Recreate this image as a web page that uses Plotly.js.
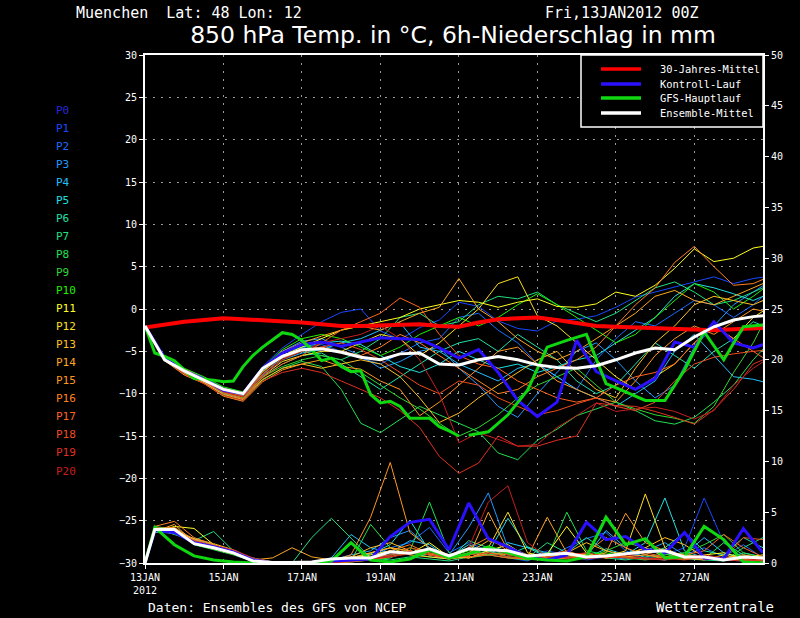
<!DOCTYPE html>
<html><head><meta charset="utf-8">
<script src="https://cdn.plot.ly/plotly-3.0.1.min.js"></script>
<style>html,body{margin:0;padding:0;background:#000;}#chart{width:800px;height:618px;}</style>
</head><body><div id="chart"></div>
<script>
// ---------- data ----------
const tempHours = [0,12,24,36,48,60,72,84,96,108,120,132,144,156,168,180,192,204,216,228,240,252,264,276,288,300,312,324,336,348,360,372,384];
const precipHours = [0,6,18,30,42,54,66,78,90,102,114,126,138,150,162,174,186,198,210,222,234,246,258,270,282,294,306,318,330,342,354,366,378];
const mainHoursA = [0,6,12,18,24,30,36,42,48,54,60,66,72,78,84,90,96,102,108,114,120,126,132,138,144,150,156,162,168,174,180,186,192];
const mainHoursB = [198,210,222,234,246,258,270,282,294,306,318,330,342,354,366,378];
const tickHours = [0,48,96,144,192,240,288,336];
const tickLabels = ["13JAN<br>2012","15JAN","17JAN","19JAN","21JAN","23JAN","25JAN","27JAN"];

const climTemp = [-2.2,-1.8,-1.5,-1.3,-1.1,-1.2,-1.3,-1.5,-1.6,-1.8,-2.0,-2.0,-1.9,-1.8,-1.8,-2.0,-2.1,-1.6,-1.2,-1.1,-1.0,-1.3,-1.7,-2.0,-2.1,-2.2,-2.3,-2.4,-2.5,-2.5,-2.4,-2.3,-2.2];
const meanTemp = [-2.0,-6.0,-7.3,-8.4,-9.5,-10.0,-7.0,-5.6,-4.8,-4.7,-5.1,-5.7,-6.0,-5.3,-5.2,-6.5,-6.6,-6.0,-5.6,-6.0,-6.6,-6.9,-7.0,-6.7,-6.0,-5.2,-4.6,-4.8,-3.3,-2.1,-1.3,-0.9,-0.7];
const controlTemp = [-2.0,-5.8,-7.3,-8.3,-9.6,-10.0,-7.0,-5.2,-4.2,-3.9,-4.4,-3.9,-3.4,-3.5,-3.6,-4.6,-5.8,-4.8,-7.5,-10.8,-12.7,-11.0,-3.7,-7.4,-8.5,-9.5,-8.2,-3.9,-4.5,-1.5,-4.0,-4.6,-3.8];
const mainTempA = [-2.0,-5.2,-5.6,-6.1,-7.2,-8.2,-8.3,-8.4,-8.6,-8.5,-6.8,-5.5,-4.5,-3.7,-2.8,-3.0,-3.7,-4.8,-6.1,-5.8,-6.8,-7.4,-7.3,-10.1,-11.1,-10.9,-11.5,-12.9,-12.9,-12.9,-13.9,-14.4,-15.0];
const mainTempB = [-14.9,-14.5,-12.5,-9.6,-4.5,-3.7,-3.0,-8.8,-9.8,-10.8,-10.8,-7.2,-2.7,-6.0,-2.1,-1.9];

const meanPrecip = [0,3.3,3.3,1.9,1.5,1.0,0.2,0.05,0.05,0.1,0.4,0.5,0.5,1.1,0.95,1.4,0.7,1.4,1.3,1.2,0.7,0.8,0.95,0.6,0.7,0.9,1.1,1.2,0.6,0.6,0.3,0.6,0.5];
const controlPrecip = [0,3.2,3.0,2.0,1.6,1.1,0.3,0,0,0,0.2,0.3,0.4,2.6,4.0,4.3,1.3,5.9,2.4,1.6,0.6,0.3,0.8,4.0,2.3,2.6,1.3,1.0,3.0,0.5,0.4,3.4,1.0];
const mainPrecip = [0,3.5,1.8,0.7,0.3,0.1,0,0,0,0,0.2,2.0,0.3,0.1,0.4,1.3,0.5,0.9,1.6,1.0,0.5,0.3,0.2,0.6,4.5,1.8,2.4,0.5,0.6,3.6,2.3,0.1,0];

const memberLabels = ["P0","P1","P2","P3","P4","P5","P6","P7","P8","P9","P10","P11","P12","P13","P14","P15","P16","P17","P18","P19","P20"];
const memberColors = ["#2828d8","#1848ff","#1a6cff","#2098ff","#20c0ff","#20e0e0","#20e0a8","#20e080","#20e050","#30d830","#20f000","#ffff20","#ffe020","#ffc020","#ffa820","#ff9620","#ff8020","#ff6420","#f04c20","#e03020","#c81e1e"];

const memberTemp = [
  controlTemp,
  [-2.0,-5.6,-7.1,-8.1,-9.3,-9.8,-6.8, -4.6,-3.0,-1.5,-0.4,0.0,-2.6,-3.6,-2.2,-1.3,0.8, 0.3,-1.4,-2.3,-2.6,-1.4,-1.2,-0.8,0.2,1.4,2.0,2.6,3.2,3.8,3.0,3.6,3.9],
  [-2.0,-5.9,-7.4,-8.5,-9.8,-10.4,-7.8, -5.5,-4.6,-4.2,-5.0,-5.8,-6.5,-5.2,-4.0,-3.5,-1.0, -0.5,-2.5,-4.0,-6.5,-8.0,-9.5,-6.0,-3.5,-1.5,-2.0,-0.5,1.0,0.5,-1.0,0.5,2.5],
  [-2.0,-5.7,-7.2,-8.2,-9.4,-10.0,-7.2, -5.0,-3.8,-3.5,-4.5,-5.5,-7.0,-6.2,-5.0,-4.5,-7.0, -9.0,-11.5,-12.8,-10.0,-7.5,-5.0,-4.0,-6.0,-8.5,-10.5,-9.0,-4.5,-2.0,0.5,2.0,3.5],
  [-2.0,-6.0,-7.5,-8.4,-9.7,-10.3,-7.9, -6.0,-5.2,-4.8,-4.0,-3.5,-2.5,-1.6,-4.5,-5.0,-6.5, -7.5,-8.5,-7.0,-6.5,-8.0,-9.5,-10.5,-11.5,-10.0,-8.5,-5.0,-3.0,-5.5,-8.0,-8.3,-8.9],
  [-2.0,-5.8,-7.3,-8.4,-9.6,-10.1,-7.3, -5.2,-4.5,-4.0,-3.8,-4.2,-5.5,-6.8,-7.5,-6.5,-5.0, -6.0,-7.0,-6.5,-7.5,-6.8,-6.0,-5.5,-4.0,-2.5,-1.0,1.5,3.0,2.5,1.8,1.0,2.0],
  [-2.0,-5.9,-7.6,-8.6,-10.0,-10.6,-8.0, -6.5,-5.5,-5.2,-6.5,-8.0,-9.5,-8.0,-6.5,-5.0,-4.0, -3.5,-5.0,-3.0,-4.5,-6.0,-8.5,-10.0,-9.0,-6.5,-4.0,-5.5,-7.0,-5.0,-3.5,-1.5,-2.5],
  [-2.0,-5.7,-7.2,-8.3,-9.5,-10.2,-7.7, -5.8,-5.0,-5.5,-6.0,-5.0,-3.5,-1.0,-0.5,-2.0,-1.5, 0.5,1.5,1.2,2.0,0.5,-0.5,-1.5,-0.5,1.0,2.5,3.2,2.0,0.5,1.0,2.0,3.0],
  [-2.0,-6.0,-7.7,-8.7,-10.2,-10.8,-8.4, -7.0,-6.2,-6.8,-9.5,-13.5,-14.6,-13.0,-11.5,-12.5,-13.5, -14.5,-17.0,-17.8,-15.5,-14.2,-12.6,-11.8,-11.0,-12.0,-13.2,-13.6,-12.8,-11.0,-9.0,-6.0,-3.5],
  [-2.0,-5.8,-7.4,-8.5,-9.9,-10.5,-8.0, -6.8,-6.0,-5.5,-6.0,-7.5,-9.0,-10.5,-11.8,-13.5,-15.0, -14.0,-12.5,-10.5,-9.0,-8.0,-7.0,-9.0,-11.0,-11.8,-12.5,-12.9,-13.5,-11.5,-7.5,-4.0,0.5],
  [-2.0,-5.6,-7.0,-8.0,-9.2,-9.8,-7.0, -4.8,-3.5,-3.0,-3.5,-4.5,-5.5,-4.5,-3.0,-2.0,-1.0, -2.0,-1.0,0.5,1.8,0.5,-1.0,-2.5,-4.0,-3.0,-1.0,1.0,3.0,2.0,0.0,1.5,3.2],
  [-2.0,-5.7,-7.2,-8.3,-9.5,-10.0,-7.4, -5.5,-4.5,-3.5,-2.5,-2.0,-1.5,-1.0,0.0,0.5,1.0, 0.8,0.2,0.8,1.2,0.3,0.2,0.6,2.0,1.5,2.8,4.8,7.1,5.6,6.0,7.2,7.6],
  [-2.0,-5.8,-7.5,-8.5,-9.8,-10.4,-7.9, -6.2,-5.5,-5.0,-5.0,-4.0,-3.0,-3.5,-5.5,-4.0,-2.0, 0.0,3.0,3.8,-0.8,-2.0,-4.0,-6.0,-8.0,-9.5,-8.0,-6.5,-4.0,-2.0,-3.5,-1.0,0.5],
  [-2.0,-5.9,-7.6,-8.7,-10.1,-10.7,-8.3, -7.0,-6.5,-7.0,-6.5,-6.0,-6.5,-8.0,-10.5,-13.4,-12.3, -10.5,-9.0,-7.5,-6.0,-5.0,-7.5,-9.5,-10.5,-7.0,-4.0,-2.0,0.5,1.5,1.0,0.5,1.5],
  [-2.0,-5.7,-7.1,-8.2,-9.4,-9.9,-7.1, -5.0,-4.0,-3.2,-2.5,-2.0,-2.5,-1.5,-0.5,0.2,3.6, 0.0,-1.5,-3.5,-5.0,-6.0,-5.0,-3.5,-2.0,-0.5,1.5,2.2,1.0,0.5,1.5,2.5,3.5],
  [-2.0,-6.1,-7.8,-8.8,-10.3,-10.9,-8.6, -7.2,-6.5,-6.0,-6.8,-7.1,-8.5,-9.5,-12.6,-11.0,-9.0, -7.0,-5.0,-4.5,-6.5,-8.5,-9.5,-10.5,-11.0,-8.5,-5.5,-3.5,-2.0,-3.0,-1.5,0.0,-0.5],
  [-2.0,-5.8,-7.3,-8.3,-9.6,-10.1,-7.5, -5.5,-4.8,-4.5,-5.0,-5.5,-4.5,-3.0,-4.0,-5.5,-7.0, -8.5,-10.0,-9.5,-8.0,-7.0,-6.0,-4.5,-2.0,0.5,2.5,5.5,7.4,5.0,2.8,3.0,4.0],
  [-2.0,-5.9,-7.5,-8.6,-9.9,-10.6,-8.1, -6.5,-5.5,-4.0,-2.5,-1.5,-0.5,1.3,0.2,-3.0,-5.5, -6.5,-7.0,-8.5,-9.5,-10.5,-11.0,-10.5,-9.0,-8.0,-7.5,-6.5,-4.0,-2.0,-3.5,-5.0,-6.5],
  [-2.0,-5.7,-7.3,-8.4,-9.7,-10.3,-7.7, -5.8,-5.0,-4.5,-4.0,-4.8,-6.0,-7.5,-9.0,-10.0,-8.5, -9.0,-10.5,-11.5,-12.5,-12.0,-11.2,-10.5,-11.5,-12.0,-11.0,-8.5,-6.5,-5.7,-5.3,-5.0,-4.8],
  [-2.0,-6.0,-7.7,-8.8,-10.2,-10.8,-8.5, -7.5,-7.0,-7.5,-8.5,-9.5,-10.5,-12.0,-14.0,-17.4,-19.4, -18.2,-15.0,-16.2,-16.2,-15.5,-15.0,-11.1,-11.4,-11.5,-12.1,-12.8,-13.6,-11.9,-9.5,-6.5,-5.5],
  [-2.0,-5.9,-7.4,-8.5,-9.8,-10.4,-7.9, -6.0,-5.0,-4.0,-3.5,-3.0,-2.0,-3.5,-6.0,-10.0,-15.8, -14.6,-15.4,-16.2,-16.0,-14.0,-12.6,-11.1,-12.1,-11.8,-11.6,-12.1,-13.0,-12.0,-9.0,-7.0,-5.5]
];

const memberPrecip = [
  controlPrecip,
  [0,3.2,3.0,2.1,1.5,1.0,0.3,0, 0,0,0.1,0.2,0.3,0.5,1.2,0.8,0.4, 1.5,0.8,0.5,0.2,1.2,0.8,0.3,0.6,1.0,0.4,0.8,1.5,6.4,2.0,0.5,0.3],
  [0,3.4,3.5,1.8,1.4,0.9,0.2,0, 0,0,0.2,0.4,0.6,1.5,2.0,3.5,1.0, 2.0,1.2,0.6,0.3,0.5,1.5,2.4,3.0,1.2,0.5,0.3,0.8,1.5,0.6,1.8,0.5],
  [0,3.0,3.1,2.3,1.7,1.1,0.4,0.1, 0,0,0.3,0.8,1.2,2.5,3.2,1.5,0.8, 3.5,6.9,1.5,0.5,0.3,0.5,1.0,0.6,0.4,1.2,2.0,0.8,0.4,0.3,0.2,0.5],
  [0,3.3,3.2,1.9,1.5,1.2,0.3,0, 0,0.1,0.5,2.8,1.5,1.0,2.2,1.8,0.5, 1.0,0.8,2.0,1.5,1.0,0.8,0.6,3.2,1.5,0.5,0.3,0.8,2.5,1.0,0.4,0.2],
  [0,3.5,3.0,2.4,1.8,1.0,0.2,0, 0,0,0.2,0.5,0.9,1.8,4.2,1.2,0.6, 1.8,1.0,4.4,1.5,0.6,1.0,0.5,1.4,0.8,2.0,6.4,1.2,0.5,0.3,1.0,0.6],
  [0,3.1,2.9,2.0,1.6,1.0,0.5,0.1, 0,0,0.1,0.3,0.5,0.8,1.0,0.6,0.4, 2.2,1.5,0.8,1.6,0.8,1.0,2.5,1.2,0.6,0.8,1.5,3.0,1.2,0.8,2.5,1.5],
  [0,3.4,2.8,2.2,3.1,1.2,0.3,0, 0,2.5,4.4,2.5,0.5,0.3,0.6,0.4,0.2, 0.6,0.8,1.2,0.5,2.0,1.0,0.8,0.5,0.3,0.6,0.9,0.4,0.3,0.2,1.5,2.5],
  [0,3.6,3.3,1.8,1.3,0.8,0.2,0, 0,0,0.1,0.2,3.8,1.5,1.2,6.0,1.0, 0.5,0.8,1.0,0.6,0.5,5.0,1.2,0.8,0.5,0.3,0.6,1.0,0.4,2.0,0.8,0.3],
  [0,3.2,3.4,2.0,1.4,0.9,0.3,0, 0,0,0,0.2,0.4,0.6,1.0,0.8,0.5, 0.8,1.2,0.6,0.4,1.0,0.8,0.5,1.2,2.0,1.5,0.8,1.0,1.8,2.8,1.0,0.5],
  [0,3.3,3.1,2.1,1.5,1.0,0.2,0, 0,0,0,0.1,0.3,0.5,1.5,1.0,0.6, 1.2,0.8,0.5,0.3,0.6,0.5,0.8,1.0,0.6,0.4,0.6,0.8,0.5,0.3,0.6,0.4],
  [0,3.0,3.6,3.4,1.8,1.0,0.2,0, 0,0,0.2,0.4,0.8,1.2,0.9,2.0,0.6, 0.5,1.2,1.8,0.6,0.9,3.6,1.0,0.5,0.8,1.5,0.6,0.4,0.8,1.0,0.5,0.8],
  [0,3.3,3.4,2.2,1.6,1.1,0.3,0, 0,0,0.1,0.5,1.0,1.5,0.8,0.6,0.4, 0.8,1.5,5.0,1.0,0.6,0.8,0.5,0.6,1.2,6.8,1.5,0.5,0.3,0.8,0.4,0.2],
  [0,3.5,3.2,2.4,1.9,1.3,0.4,0.1, 0,0,0.3,0.6,1.5,2.0,1.2,0.8,0.5, 1.0,2.2,1.6,0.8,0.5,1.0,2.0,1.2,0.8,1.5,2.5,1.8,0.6,0.5,0.3,0.4],
  [0,3.1,3.8,2.0,1.5,1.0,0.3,0.5, 1.5,0.6,0.3,0.5,1.0,1.5,1.2,0.8,0.4, 0.6,5.0,1.2,0.6,4.5,1.0,0.8,0.5,0.6,0.8,0.5,0.4,0.6,0.5,0.8,0.5],
  [0,3.4,3.5,2.3,1.7,1.2,0.3,0, 0,0,0.2,0.8,4.5,9.9,3.0,1.5,0.8, 0.5,1.0,0.8,0.5,0.3,0.6,0.5,1.0,4.9,2.0,1.2,0.8,0.6,0.4,0.3,0.2],
  [0,3.6,4.1,2.5,1.8,1.2,0.4,0, 0,0,0.1,0.3,0.6,1.2,1.8,0.9,0.5, 1.5,2.5,1.2,0.8,0.6,0.4,1.0,2.5,1.5,0.8,0.5,0.6,0.4,0.3,0.5,0.3],
  [0,3.2,3.0,1.9,1.4,0.9,0.2,0, 0,0,0,0.1,0.3,0.6,1.0,1.4,0.8, 0.6,0.8,0.5,0.4,0.8,1.2,0.6,0.5,0.8,1.0,0.6,0.8,1.2,2.8,1.5,0.6],
  [0,3.3,3.3,2.1,1.6,1.1,0.3,0, 0,0,0,0.2,0.5,0.8,1.5,1.0,0.5, 0.8,1.0,0.6,0.5,0.4,0.6,0.5,0.8,0.6,0.4,0.5,0.3,0.6,0.4,2.5,2.3],
  [0,3.5,3.1,2.2,1.7,1.3,0.5,0.1, 0,0,0.1,0.3,0.4,0.7,1.2,0.8,0.5, 1.0,1.5,0.8,0.6,0.5,0.8,1.0,0.6,0.5,0.4,0.3,0.5,0.4,0.3,0.2,0.3],
  [0,3.2,3.3,2.0,1.5,1.0,0.3,0, 0,0,0,0.2,0.4,0.6,0.9,1.2,0.8, 1.5,6.0,7.6,2.0,0.6,0.5,0.4,0.6,0.8,0.5,0.4,0.6,0.8,0.5,0.4,0.3]
];

const legendNames = ["30-Jahres-Mittel","Kontroll-Lauf","GFS-Hauptlauf","Ensemble-Mittel"];
const legendColors = ["#ff0000","#2a10ff","#10d810","#ffffff"];

// ---------- geometry of the figure (pixels) ----------
const W = 800, H = 618, L = 145, R = 763, T = 55, B = 563;
const px = v => (v - L) / (R - L);
const py = v => (B - v) / (B - T);
const MONO = 'DejaVu Sans Mono';

// ---------- traces ----------
const traces = [];
memberTemp.forEach((vals, i) => {
  traces.push({x: tempHours, y: vals, type: 'scatter', mode: 'lines', yaxis: 'y',
    line: {color: memberColors[i], width: 1}, hoverinfo: 'skip'});
});
memberPrecip.forEach((vals, i) => {
  traces.push({x: precipHours, y: vals, type: 'scatter', mode: 'lines', yaxis: 'y2',
    line: {color: memberColors[i], width: 1}, hoverinfo: 'skip'});
});
traces.push({x: tempHours, y: climTemp, type:'scatter', mode:'lines', yaxis:'y', line:{color: legendColors[0], width: 4}});
traces.push({x: tempHours, y: controlTemp, type:'scatter', mode:'lines', yaxis:'y', line:{color: legendColors[1], width: 3}});
traces.push({x: precipHours, y: controlPrecip, type:'scatter', mode:'lines', yaxis:'y2', line:{color: legendColors[1], width: 3}});
traces.push({x: mainHoursA.concat([195], mainHoursB), y: mainTempA.concat([null], mainTempB), type:'scatter', mode:'lines', yaxis:'y', connectgaps:false, line:{color: legendColors[2], width: 3}});
traces.push({x: precipHours, y: mainPrecip, type:'scatter', mode:'lines', yaxis:'y2', line:{color: legendColors[2], width: 3}});
traces.push({x: tempHours, y: meanTemp, type:'scatter', mode:'lines', yaxis:'y', line:{color: legendColors[3], width: 3}});
traces.push({x: precipHours, y: meanPrecip, type:'scatter', mode:'lines', yaxis:'y2', line:{color: legendColors[3], width: 3}});

// ---------- annotations and shapes ----------
const ann = [];
const shapes = [];
memberLabels.forEach((lab, i) => {
  ann.push({text: lab, xref:'paper', yref:'paper', x: px(54), y: py(110 + 18.05 * i), xanchor:'left', yanchor:'middle',
    showarrow:false, font:{family: MONO, size:11, color: memberColors[i]}});
});
ann.push({text:'Muenchen\u00a0\u00a0Lat: 48 Lon: 12', xref:'paper', yref:'paper', x:px(74), y:py(13), xanchor:'left', yanchor:'middle', showarrow:false, font:{family: MONO, size:15, color:'#fff'}});
ann.push({text:'Fri,13JAN2012 00Z', xref:'paper', yref:'paper', x:px(543), y:py(13), xanchor:'left', yanchor:'middle', showarrow:false, font:{family: MONO, size:15, color:'#fff'}});
ann.push({text:'Daten: Ensembles des GFS von NCEP', xref:'paper', yref:'paper', x:px(146), y:py(607), xanchor:'left', yanchor:'middle', showarrow:false, font:{family: MONO, size:13, color:'#fff'}});
ann.push({text:'Wetterzentrale', xref:'paper', yref:'paper', x:px(776), y:py(607), xanchor:'right', yanchor:'middle', showarrow:false, font:{family: MONO, size:14, color:'#fff'}});

shapes.push({type:'rect', xref:'paper', yref:'paper', x0:px(581), x1:px(763), y0:py(127), y1:py(55), fillcolor:'#000', line:{color:'#fff', width:1.5}, layer:'above'});
const legRows = [69, 84, 98, 113];
legendNames.forEach((nm, i) => {
  shapes.push({type:'line', xref:'paper', yref:'paper', x0:px(601), x1:px(641), y0:py(legRows[i]), y1:py(legRows[i]), line:{color: legendColors[i], width: 3.5}, layer:'above'});
  ann.push({text:nm, xref:'paper', yref:'paper', x:px(658), y:py(legRows[i]), xanchor:'left', yanchor:'middle', showarrow:false, font:{family: MONO, size:10.4, color:'#fff'}});
});

const axisFont = {family: MONO, size:10, color:'#fff'};
const gridDash = '2px,6px';
const layout = {
  width: W, height: H,
  paper_bgcolor:'#000', plot_bgcolor:'#000',
  margin:{l: L, r: W - R, t: T, b: H - B, pad: 0},
  showlegend:false,
  title:{text:'850 hPa Temp. in °C, 6h-Niederschlag in mm', x: 453 / W, xanchor:'center', y: 1 - 35 / H, yanchor:'middle', yref:'container', xref:'container',
    font:{family:'DejaVu Sans', size:23.5, color:'#fff'}},
  xaxis:{range:[0,378], tickvals: tickHours, ticktext: tickLabels, showgrid:true, gridcolor:'#9a9a9a', griddash: gridDash, gridwidth:1,
    showline:true, linecolor:'#fff', linewidth:2, mirror:true, ticks:'outside', ticklen:4, tickcolor:'#fff', tickfont: axisFont, zeroline:false},
  yaxis:{range:[-30,30], tick0:-30, dtick:5, showgrid:true, gridcolor:'#9a9a9a', griddash: gridDash, gridwidth:1,
    showline:true, linecolor:'#fff', linewidth:2, mirror:true, ticks:'outside', ticklen:4, tickcolor:'#fff', tickfont: axisFont, zeroline:false},
  yaxis2:{range:[0,50], tick0:0, dtick:5, overlaying:'y', side:'right', showgrid:false, showline:true, linecolor:'#fff', linewidth:2,
    ticks:'outside', ticklen:4, tickcolor:'#fff', tickfont: axisFont, zeroline:false},
  annotations: ann,
  shapes: shapes
};
Plotly.newPlot('chart', traces, layout, {staticPlot:true, displayModeBar:false});
</script></body></html>
